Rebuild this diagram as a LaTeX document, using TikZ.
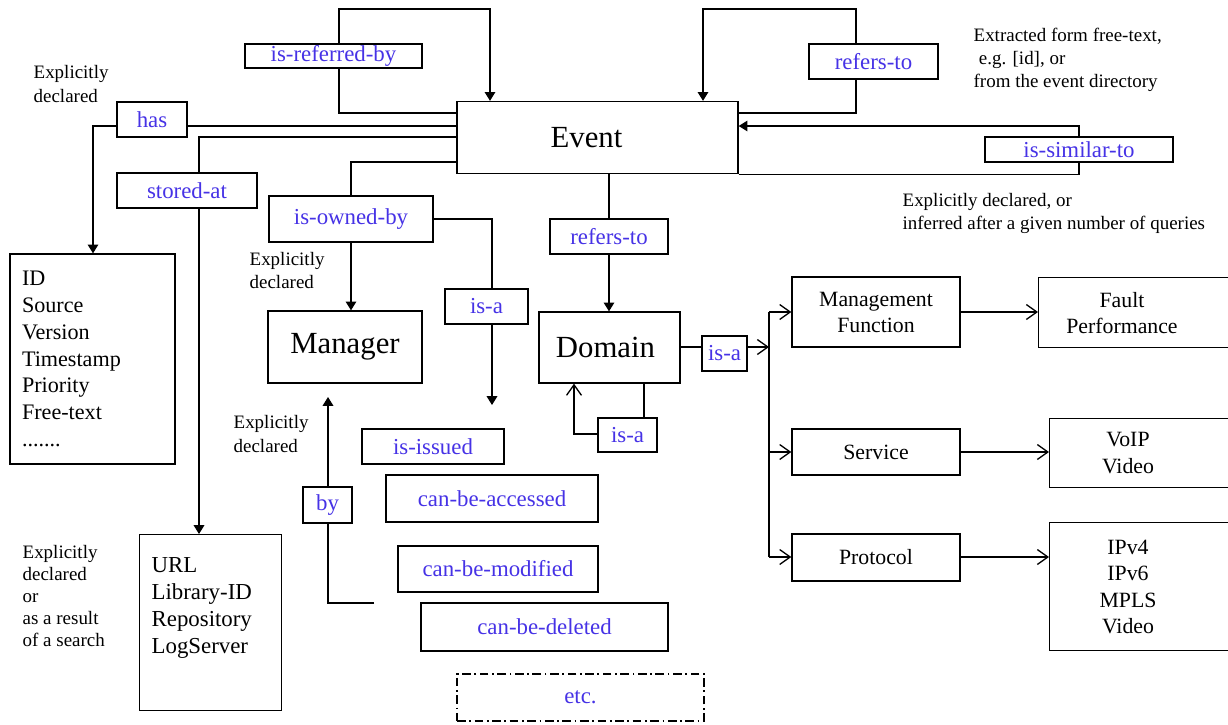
\documentclass[tikz,border=0pt]{standalone}
\usepackage{fontspec}
\setmainfont{Liberation Serif}
\usetikzlibrary{arrows.meta}
\definecolor{relblue}{RGB}{70,50,230}
\newcommand\fsz[2]{\fontsize{#1}{#2}\selectfont}

\begin{document}
\begin{tikzpicture}[x=0.02cm, y=-0.02cm, line width=0.75pt,
  sz/.style 2 args={minimum width=#1*0.02cm, minimum height=#2*0.02cm},
  rel/.style={draw, fill=white, inner sep=0pt, text=relblue, font=\fsz{13}{15}},
  ent/.style={draw, inner sep=0pt, font=\fsz{17.5}{20}},
  box/.style={draw, inner sep=0pt, align=center, font=\fsz{12.4}{14.8}},
  plain/.style={draw, inner sep=0pt},
  txt/.style={inner sep=0pt, align=center, font=\fsz{12.4}{15}},
  note/.style={inner sep=0pt, align=left, anchor=west, font=\fsz{10.8}{13.2}},
  fa/.style={-{Triangle[length=5pt, width=6pt]}},
  oa/.style={-{Straight Barb[length=6pt, width=8.5pt, line width=0.75pt]}}
]
\fill[white] (0,0) rectangle (1228,724);
\useasboundingbox (0,0) rectangle (1228,724);

% main entities
\node[ent, sz={281}{72}] (event) at (597.5,137.5) {\hspace*{-0.44cm}Event};
\node[ent, sz={154}{72}] (mgr) at (345,347) {Manager};
\node[ent, sz={141}{71}] (dom) at (609.5,347.5) {\hspace*{-0.16cm}Domain};

% relation labels
\node[rel, sz={177}{24}] (isref) at (333.5,56) {is-referred-by};
\node[rel, sz={129}{35}] (refa) at (873.5,61.5) {refers-to};
\node[rel, sz={70}{35}] (has) at (152,119.5) {has};
\node[rel, sz={140}{35}] (stored) at (187,190.5) {stored-at};
\node[rel, sz={164}{46}] (owned) at (351,219) {is-owned-by};
\node[rel, sz={83}{35}] (isa1) at (486.5,306.5) {is-a};
\node[rel, sz={118}{35}] (refb) at (609,236.5) {refers-to};
\node[rel, sz={188}{25}] (sim) at (1079,149.5) {is-similar-to};
\node[rel, sz={59}{34}] (isa2) at (627.5,435) {is-a};
\node[rel, sz={45}{35}] (isa3) at (724.5,353.5) {is-a};
\node[rel, sz={49}{36}] (by) at (327.5,505) {by};
\node[rel, sz={142}{35}] (issued) at (433,446.5) {is-issued};
\node[rel, sz={212}{47}] (acc) at (492,498.5) {can-be-accessed};
\node[rel, sz={200}{46}] (mod) at (498,569) {can-be-modified};
\node[rel, sz={247}{48}] (del) at (544.5,627) {can-be-deleted};
\node[rel, sz={247}{47}, dash pattern=on 5pt off 2pt on 1pt off 2pt] (etc) at (580.5,697.5) {etc.};

% attribute lists
\node[plain, sz={165}{210}, align=left, text width=2.82cm, font=\fsz{12.6}{15.3}]
  (attr) at (92.5,359) {ID\\Source\\Version\\Timestamp\\Priority\\Free-text\\.......};
\node[plain, anchor=north west, inner xsep=0.24cm, inner ysep=0.46cm, font=\fsz{13}{15.3}]
  (url) at (139,534) {\parbox[c][2.6cm][t]{2.36cm}{URL\\Library-ID\\Repository\\LogServer}};

% domain categories
\node[box, sz={168}{70}] (mf) at (876,312) {Management\\Function};
\node[box, sz={168}{46}] (svc) at (876,452) {Service};
\node[box, sz={168}{47}] (proto) at (876,557.5) {Protocol};
\node[plain, anchor=north west, sz={220}{70}] (fp) at (1038,277) {};
\node[plain, anchor=north west, sz={220}{69}] (vv) at (1049,418) {};
\node[plain, anchor=north west, sz={220}{128}] (ip) at (1049,522) {};
\node[txt] (fptxt) at (1122,313) {Fault\\Performance};
\node[txt] (vvtxt) at (1128,453) {VoIP\\Video};
\node[txt] (iptxt) at (1128,587) {IPv4\\IPv6\\MPLS\\Video};

% annotations
\node[note] (n1) at (33,84) {Explicitly\\declared};
\node[note] (n2) at (973,60) {Extracted form free-text,\\\hspace*{3pt}e.g. [id], or\\from the event directory};
\node[note] (n3) at (902,213.5) {Explicitly declared, or\\inferred after a given number of queries};
\node[note] (n4) at (249,270.5) {Explicitly\\declared};
\node[note] (n5) at (233,434) {Explicitly\\declared};
\node[note, font=\fsz{10.8}{12.4}] (n6) at (22,596) {Explicitly\\declared\\or\\as a result\\of a search};

% free ends
\coordinate (tip1) at (492,405);
\coordinate (byfoot) at (374,603);
\coordinate (bytip) at (328,397);
\coordinate (bt) at (769,312);
\coordinate (bb) at (769,557);

% event self references
\draw (event.west |- 0,113) -- (339,113) -- (isref.south -| 339,0);
\draw[fa] (isref.north -| 339,0) -- (339,9) -- (490,9) -- (event.north -| 490,0);
\draw (event.east |- 0,113) -- (856,113) -- (refa.south -| 856,0);
\draw[fa] (refa.north -| 856,0) -- (856,9) -- (703,9) -- (event.north -| 703,0);
\draw (event.south east) -| (sim.south -| 1079,0);
\draw[fa] (sim.north -| 1079,0) -- (1079,126) -- (event.east |- 0,126);

% attributes and storage
\draw (event.west |- 0,126) -- (has.east |- 0,126);
\draw[fa] (has.west |- 0,126) -- (93,126) -- (attr.north -| 93,0);
\draw (event.west |- 0,137) -- (199,137) -- (stored.north -| 199,0);
\draw[fa] (stored.south -| 199,0) -- (url.north -| 199,0);

% ownership
\draw (event.west |- 0,162) -- (351,162) -- (owned.north -| 351,0);
\draw[fa] (owned.south -| 351,0) -- (mgr.north -| 351,0);
\draw (owned.east |- 0,219) -- (492,219) -- (isa1.north -| 492,0);
\draw[fa] (isa1.south -| 492,0) -- (tip1);
\draw (byfoot) -- (328,603) -- (by.south -| 328,0);
\draw[fa] (by.north -| 328,0) -- (bytip);

% domain
\draw (event.south -| 609,0) -- (refb.north -| 609,0);
\draw[fa] (refb.south -| 609,0) -- (dom.north -| 609,0);
\draw (dom.south -| 644,0) -- (isa2.north -| 644,0);
\draw[oa] (isa2.west |- 0,434) -- (574,434) -- (dom.south -| 574,0);
\draw (dom.east |- 0,347) -- (isa3.west |- 0,347);
\draw[oa] (isa3.east |- 0,347) -- (bt |- 0,347);
\draw (bt) -- (bb);
\draw[oa] (bt) -- (mf.west |- bt);
\draw[oa] (bt |- svc.west) -- (svc.west);
\draw[oa] (bb) -- (proto.west |- bb);
\draw[oa] (mf.east |- bt) -- (fp.west |- bt);
\draw[oa] (svc.east) -- (vv.west |- svc.east);
\draw[oa] (proto.east |- bb) -- (ip.west |- bb);
\end{tikzpicture}
\end{document}
